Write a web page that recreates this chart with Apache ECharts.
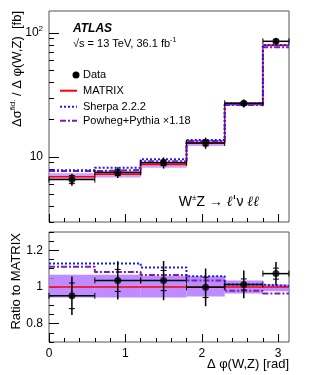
<!DOCTYPE html>
<html style="height: 100%">
<head>
  <meta charset="utf-8">
</head>
<body style="height: 100%; margin: 0; background: #fff">
  <div id="container" style="width: 332px; height: 375px"></div>

  <script type="text/javascript" src="https://cdn.jsdelivr.net/npm/echarts@6/dist/echarts.min.js"></script>
  <script type="text/javascript">
    // bins in delta phi(W,Z) [rad]
    var binEdges = [0, 0.6, 1.2, 1.8, 2.3, 2.8, Math.PI];

    // top panel, cross sections in fb
    var dataVal = [6.6, 7.52, 9.0, 13.0, 27.1, 85.5];
    var dataErrTot = [0.73, 0.75, 0.93, 1.34, 2.03, 5.1];
    var dataErrStat = [0.49, 0.44, 0.48, 0.72, 0.8, 2.4];
    var matrixVal = [6.95, 7.26, 8.7, 13.0, 26.7, 79.5];
    var matrixLo = [6.55, 6.85, 8.2, 12.3, 25.8, 77.5];
    var matrixHi = [7.42, 7.75, 9.2, 13.75, 27.7, 80.7];
    var sherpaVal = [7.84, 8.19, 9.62, 13.75, 27.05, 79.9];
    var powhegVal = [7.71, 7.86, 9.27, 13.47, 26.2, 76.7];

    // bottom panel, ratio to MATRIX
    var dataRatio = [0.952, 1.036, 1.035, 0.998, 1.014, 1.073];
    var ratioErrTot = [0.105, 0.104, 0.107, 0.103, 0.076, 0.064];
    var ratioErrStat = [0.07, 0.06, 0.055, 0.055, 0.03, 0.03];
    var matrixRatio = [1, 1, 1, 1, 1, 1];
    var bandRatioLo = [0.943, 0.943, 0.943, 0.948, 0.965, 0.977];
    var bandRatioHi = [1.067, 1.067, 1.06, 1.058, 1.036, 1.015];
    var sherpaRatio = [1.128, 1.128, 1.106, 1.058, 1.013, 1.005];
    var powhegRatio = [1.11, 1.082, 1.066, 1.036, 0.98, 0.965];

    // ticks
    var xMajor = [0, 1, 2, 3];
    var xMinor = [0.2, 0.4, 0.6, 0.8, 1.2, 1.4, 1.6, 1.8, 2.2, 2.4, 2.6, 2.8, 3.0];
    var logMajor = [10, 100];
    var logMinor = [3, 4, 5, 6, 7, 8, 9, 20, 30, 40, 50, 60, 70, 80, 90];
    var ratioMajor = [0.8, 1, 1.2];
    var ratioMinor = [0.7, 0.75, 0.85, 0.9, 0.95, 1.05, 1.1, 1.15, 1.25, 1.3];

    var FONT = 'Liberation Sans, Arial, sans-serif';

    function stepData(vals) {
      var out = [];
      for (var i = 0; i < vals.length; i++) out.push([binEdges[i], vals[i]]);
      out.push([binEdges[vals.length], vals[vals.length - 1]]);
      return out;
    }
    function bandData(lo, hi) {
      return lo.map(function (l, i) { return [binEdges[i], binEdges[i + 1], l, hi[i]]; });
    }
    function errData(vals, tot, stat) {
      return vals.map(function (v, i) {
        return [binEdges[i], binEdges[i + 1], (binEdges[i] + binEdges[i + 1]) / 2, v, tot[i], stat[i]];
      });
    }
    function pointData(vals) {
      return vals.map(function (v, i) { return [(binEdges[i] + binEdges[i + 1]) / 2, v]; });
    }

    function renderBand(params, api) {
      var p0 = api.coord([api.value(0), api.value(3)]);
      var p1 = api.coord([api.value(1), api.value(2)]);
      return {
        type: 'rect',
        shape: { x: p0[0], y: p0[1], width: p1[0] - p0[0], height: p1[1] - p0[1] },
        style: { fill: api.visual('color') }
      };
    }

    function renderErr(params, api) {
      var y = api.value(3), xc = api.value(2);
      var l = api.coord([api.value(0), y]);
      var r = api.coord([api.value(1), y]);
      var up = api.coord([xc, y + api.value(4)]);
      var dn = api.coord([xc, y - api.value(4)]);
      var su = api.coord([xc, y + api.value(5)]);
      var sd = api.coord([xc, y - api.value(5)]);
      var st = { stroke: '#000', lineWidth: 1.5 };
      var thin = { stroke: '#000', lineWidth: 1 };
      function ln(x1, y1, x2, y2, s) {
        return { type: 'line', shape: { x1: x1, y1: y1, x2: x2, y2: y2 }, style: s };
      }
      return {
        type: 'group',
        children: [
          ln(l[0], l[1], r[0], r[1], st),
          ln(l[0], l[1] - 3, l[0], l[1] + 3, thin),
          ln(r[0], r[1] - 3, r[0], r[1] + 3, thin),
          ln(up[0], up[1], dn[0], dn[1], st),
          ln(su[0] - 3, su[1], su[0] + 3, su[1], thin),
          ln(sd[0] - 3, sd[1], sd[0] + 3, sd[1], thin)
        ]
      };
    }

    var dom = document.getElementById("container");
    var myChart = echarts.init(dom, null, { renderer: 'canvas' });

    var tickFont = { fontFamily: FONT, fontSize: 12, color: '#000' };

    function xAx(grid, ticks, len, labels) {
      return {
        type: 'value', gridIndex: grid, min: 0, max: Math.PI, position: 'bottom',
        axisLine: { show: false },
        splitLine: { show: false },
        axisTick: { show: true, inside: true, length: len, customValues: ticks, lineStyle: { color: '#000' } },
        axisLabel: labels ? Object.assign({ show: true, customValues: ticks, margin: 6 }, tickFont) : { show: false }
      };
    }

    var option = {
      animation: false,
      grid: [
        { left: 49, top: 11, width: 240, height: 211, show: true, borderColor: '#555', borderWidth: 1, backgroundColor: 'transparent' },
        { left: 49, top: 232, width: 240, height: 110, show: true, borderColor: '#555', borderWidth: 1, backgroundColor: 'transparent' }
      ],
      xAxis: [
        xAx(0, xMajor, 8, false),
        xAx(0, xMinor, 4, false),
        xAx(1, xMajor, 8, true),
        xAx(1, xMinor, 4, false)
      ],
      yAxis: [
        {
          type: 'log', gridIndex: 0, min: 3, max: 150, position: 'left',
          axisLine: { show: false }, splitLine: { show: false },
          axisTick: { inside: true, length: 10, customValues: logMajor, lineStyle: { color: '#000' } },
          axisLabel: Object.assign({
            customValues: logMajor, margin: 6,
            formatter: function (v) { return Math.round(v) === 100 ? '10{sup|2}' : '10'; },
            rich: { sup: { fontFamily: FONT, fontSize: 8, padding: [0, 0, 8, 0], color: '#000' } }
          }, tickFont)
        },
        {
          type: 'log', gridIndex: 0, min: 3, max: 150, position: 'left',
          axisLine: { show: false }, splitLine: { show: false },
          axisTick: { inside: true, length: 5, customValues: logMinor, lineStyle: { color: '#000' } },
          axisLabel: { show: false }
        },
        {
          type: 'value', gridIndex: 1, min: 0.7, max: 1.3, position: 'left',
          axisLine: { show: false }, splitLine: { show: false },
          axisTick: { inside: true, length: 10, customValues: ratioMajor, lineStyle: { color: '#000' } },
          axisLabel: Object.assign({
            customValues: ratioMajor, margin: 6,
            formatter: function (v) { return String(Math.round(v * 10) / 10); }
          }, tickFont)
        },
        {
          type: 'value', gridIndex: 1, min: 0.7, max: 1.3, position: 'left',
          axisLine: { show: false }, splitLine: { show: false },
          axisTick: { inside: true, length: 5, customValues: ratioMinor, lineStyle: { color: '#000' } },
          axisLabel: { show: false }
        }
      ],
      series: [
        // top panel
        { type: 'custom', xAxisIndex: 0, yAxisIndex: 0, renderItem: renderBand,
          itemStyle: { color: 'rgba(190,130,255,0.75)' }, data: bandData(matrixLo, matrixHi), z: 1 },
        { type: 'line', xAxisIndex: 0, yAxisIndex: 0, step: 'end', symbol: 'none', data: stepData(matrixVal),
          lineStyle: { color: '#ff0000', width: 1.5 }, z: 3 },
        { type: 'line', xAxisIndex: 0, yAxisIndex: 0, step: 'end', symbol: 'none', data: stepData(powhegVal),
          lineStyle: { color: '#7b1fb0', width: 2, type: [6, 2, 2, 2] }, z: 3 },
        { type: 'line', xAxisIndex: 0, yAxisIndex: 0, step: 'end', symbol: 'none', data: stepData(sherpaVal),
          lineStyle: { color: '#1a1aff', width: 2, type: [2, 2] }, z: 4 },
        { type: 'custom', xAxisIndex: 0, yAxisIndex: 0, renderItem: renderErr,
          data: errData(dataVal, dataErrTot, dataErrStat), z: 5 },
        { type: 'scatter', xAxisIndex: 0, yAxisIndex: 0, symbolSize: 7, itemStyle: { color: '#000' },
          data: pointData(dataVal), z: 6 },

        // ratio panel
        { type: 'custom', xAxisIndex: 2, yAxisIndex: 2, renderItem: renderBand,
          itemStyle: { color: 'rgba(180,120,255,0.85)' }, data: bandData(bandRatioLo, bandRatioHi), z: 1 },
        { type: 'line', xAxisIndex: 2, yAxisIndex: 2, step: 'end', symbol: 'none', data: stepData(matrixRatio),
          lineStyle: { color: '#ff0000', width: 1.5 }, z: 3 },
        { type: 'line', xAxisIndex: 2, yAxisIndex: 2, step: 'end', symbol: 'none', data: stepData(powhegRatio),
          lineStyle: { color: '#7b1fb0', width: 2, type: [6, 2, 2, 2] }, z: 3 },
        { type: 'line', xAxisIndex: 2, yAxisIndex: 2, step: 'end', symbol: 'none', data: stepData(sherpaRatio),
          lineStyle: { color: '#1a1aff', width: 2, type: [2, 2] }, z: 4 },
        { type: 'custom', xAxisIndex: 2, yAxisIndex: 2, renderItem: renderErr,
          data: errData(dataRatio, ratioErrTot, ratioErrStat), z: 5 },
        { type: 'scatter', xAxisIndex: 2, yAxisIndex: 2, symbolSize: 7, itemStyle: { color: '#000' },
          data: pointData(dataRatio), z: 6 }
      ],
      graphic: [
        { type: 'text', left: 73, top: 23, style: { text: 'ATLAS', font: 'italic bold 12px ' + FONT, fill: '#000' } },
        { type: 'text', x: 73, y: 44, style: {
            text: '√s = 13 TeV, 36.1 fb{sup|-1}', fontFamily: FONT, fontSize: 11, fill: '#000', verticalAlign: 'middle',
            rich: { sup: { fontFamily: FONT, fontSize: 7, padding: [0, 0, 7, 0] } } } },
        { type: 'circle', shape: { cx: 76, cy: 75, r: 3.5 }, style: { fill: '#000' } },
        { type: 'text', x: 83, y: 75, style: { text: 'Data', fontFamily: FONT, fontSize: 11, fill: '#000', verticalAlign: 'middle' } },
        { type: 'line', shape: { x1: 60, y1: 90.7, x2: 77, y2: 90.7 }, style: { stroke: '#ff0000', lineWidth: 2 } },
        { type: 'text', x: 83, y: 91, style: { text: 'MATRIX', fontFamily: FONT, fontSize: 11, fill: '#000', verticalAlign: 'middle' } },
        { type: 'line', shape: { x1: 60, y1: 106.7, x2: 77, y2: 106.7 }, style: { stroke: '#1a1aff', lineWidth: 2, lineDash: [2, 2] } },
        { type: 'text', x: 83, y: 107, style: { text: 'Sherpa 2.2.2', fontFamily: FONT, fontSize: 11, fill: '#000', verticalAlign: 'middle' } },
        { type: 'line', shape: { x1: 60, y1: 120.7, x2: 77, y2: 120.7 }, style: { stroke: '#7b1fb0', lineWidth: 2, lineDash: [6, 2, 2, 2] } },
        { type: 'text', x: 83, y: 121, style: { text: 'Powheg+Pythia ×1.18', fontFamily: FONT, fontSize: 11, fill: '#000', verticalAlign: 'middle' } },
        { type: 'text', x: 259, y: 202, style: {
            text: 'W{sup|±}Z → {it|ℓ\'}ν {it|ℓℓ}', fontFamily: FONT, fontSize: 14, fill: '#000', align: 'right', verticalAlign: 'middle',
            rich: { sup: { fontFamily: FONT, fontSize: 8, padding: [0, 0, 8, 0] }, it: { fontFamily: 'DejaVu Serif', fontStyle: 'italic', fontSize: 14 } } } },
        { type: 'text', x: 17, y: 11, rotation: Math.PI / 2, style: {
            text: 'Δσ{sup|fid.} / Δ φ(W,Z)  [fb]', fontFamily: FONT, fontSize: 13, fill: '#000', align: 'right', verticalAlign: 'middle',
            rich: { sup: { fontFamily: FONT, fontSize: 8, padding: [0, 0, 8, 0] } } } },
        { type: 'text', x: 16, y: 233, rotation: Math.PI / 2, style: {
            text: 'Ratio to MATRIX', fontFamily: FONT, fontSize: 13, fill: '#000', align: 'right', verticalAlign: 'middle' } },
        { type: 'text', x: 289, y: 364, style: {
            text: 'Δ φ(W,Z) [rad]', fontFamily: FONT, fontSize: 13, fill: '#000', align: 'right', verticalAlign: 'middle' } }
      ]
    };

    if (option && typeof option === 'object') {
      myChart.setOption(option);
    }
  </script>
</body>
</html>
